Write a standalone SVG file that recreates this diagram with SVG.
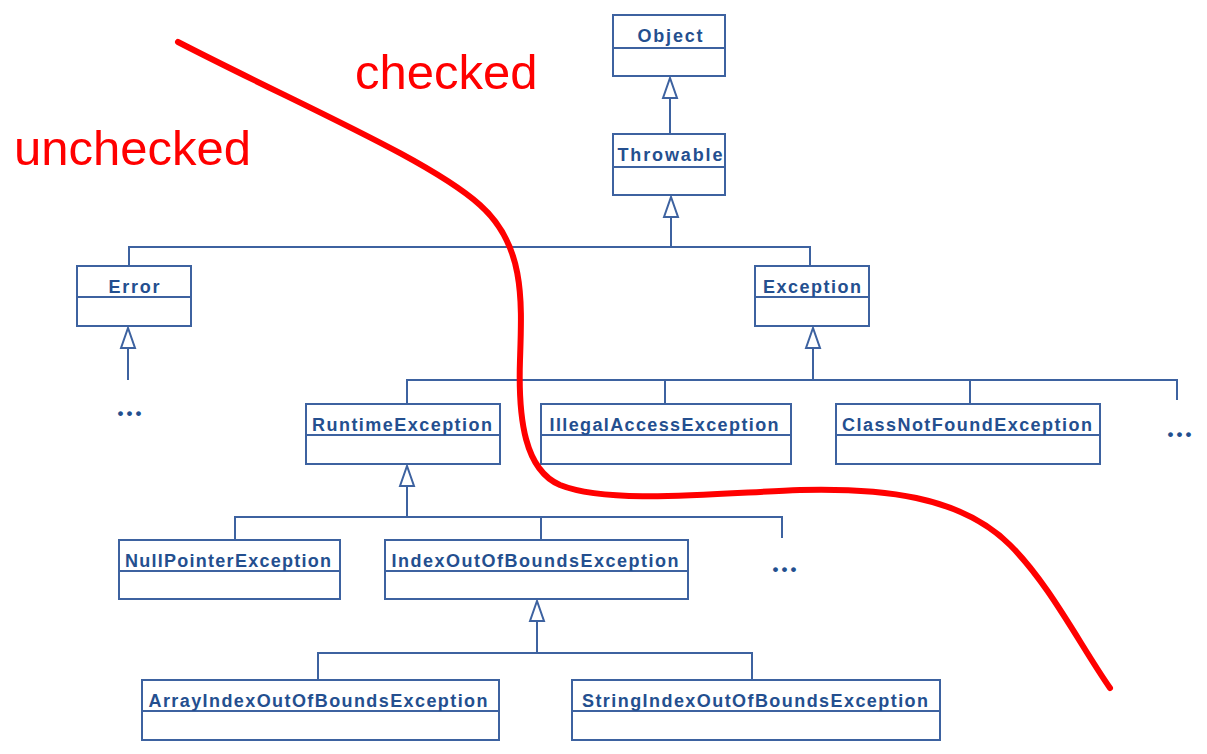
<svg xmlns="http://www.w3.org/2000/svg" width="1207" height="754" viewBox="0 0 1207 754">
<style>
.box{fill:#fff;stroke:#3d62a0;stroke-width:2}
.div{stroke:#3d62a0;stroke-width:1.8}
.lbl{font-family:"Liberation Sans",Arial,sans-serif;font-weight:bold;font-size:18px;fill:#244f8f;text-anchor:middle}
.con{fill:none;stroke:#3d62a0;stroke-width:2}
.dots{font-family:"Liberation Sans",Arial,sans-serif;font-weight:bold;font-size:17px;letter-spacing:3px;fill:#244f8f;text-anchor:middle}
.red{font-family:"Liberation Sans",Arial,sans-serif;font-size:49px;fill:#ff0000}
</style>
<defs>
<marker id="tri" markerUnits="userSpaceOnUse" markerWidth="24" markerHeight="18" viewBox="0 0 24 18" refX="22" refY="9" orient="auto">
<path d="M2,2 L22,9 L2,16 Z" fill="#fff" stroke="#3d62a0" stroke-width="2"/>
</marker>
</defs>
<rect width="1207" height="754" fill="#fff"/>
<g id="connectors">
<path class="con" d="M670,134 V78" marker-end="url(#tri)"/>
<path class="con" d="M671,247 V197" marker-end="url(#tri)"/>
<path class="con" d="M129,266 V247 H810 V266"/>
<path class="con" d="M128,380 V328" marker-end="url(#tri)"/>
<path class="con" d="M813,380 V328" marker-end="url(#tri)"/>
<path class="con" d="M407,404 V380 H1177 V400"/>
<path class="con" d="M665,380 V404"/>
<path class="con" d="M970,380 V404"/>
<path class="con" d="M407,517 V466" marker-end="url(#tri)"/>
<path class="con" d="M235,540 V517 H782 V538"/>
<path class="con" d="M541,517 V540"/>
<path class="con" d="M537,653 V601" marker-end="url(#tri)"/>
<path class="con" d="M318,680 V653 H752 V680"/>
</g>
<g id="Object"><rect class="box" x="613" y="15" width="112" height="61"/><line class="div" x1="613" y1="48" x2="725" y2="48"/><text class="lbl" x="670" y="42" textLength="65" lengthAdjust="spacing">Object</text></g>
<g id="Throwable"><rect class="box" x="613" y="134" width="112" height="61"/><line class="div" x1="613" y1="167" x2="725" y2="167"/><text class="lbl" x="670" y="161" textLength="105" lengthAdjust="spacing">Throwable</text></g>
<g id="Error"><rect class="box" x="77" y="266" width="114" height="60"/><line class="div" x1="77" y1="297" x2="191" y2="297"/><text class="lbl" x="134" y="293" textLength="51" lengthAdjust="spacing">Error</text></g>
<g id="Exception"><rect class="box" x="755" y="266" width="114" height="60"/><line class="div" x1="755" y1="297" x2="869" y2="297"/><text class="lbl" x="812" y="293" textLength="98" lengthAdjust="spacing">Exception</text></g>
<g id="ErrorMore"><text class="dots" x="131" y="419">•••</text></g>
<g id="RuntimeException"><rect class="box" x="306" y="404" width="194" height="60"/><line class="div" x1="306" y1="435" x2="500" y2="435"/><text class="lbl" x="402" y="431" textLength="180" lengthAdjust="spacing">RuntimeException</text></g>
<g id="IllegalAccessException"><rect class="box" x="541" y="404" width="250" height="60"/><line class="div" x1="541" y1="435" x2="791" y2="435"/><text class="lbl" x="664" y="431" textLength="229" lengthAdjust="spacing">IllegalAccessException</text></g>
<g id="ClassNotFoundException"><rect class="box" x="836" y="404" width="264" height="60"/><line class="div" x1="836" y1="435" x2="1100" y2="435"/><text class="lbl" x="967" y="431" textLength="250" lengthAdjust="spacing">ClassNotFoundException</text></g>
<g id="ExceptionMore"><text class="dots" x="1181" y="440">•••</text></g>
<g id="NullPointerException"><rect class="box" x="119" y="540" width="221" height="59"/><line class="div" x1="119" y1="571" x2="340" y2="571"/><text class="lbl" x="228" y="567" textLength="206" lengthAdjust="spacing">NullPointerException</text></g>
<g id="IndexOutOfBoundsException"><rect class="box" x="385" y="540" width="303" height="59"/><line class="div" x1="385" y1="571" x2="688" y2="571"/><text class="lbl" x="535" y="567" textLength="287" lengthAdjust="spacing">IndexOutOfBoundsException</text></g>
<g id="RuntimeMore"><text class="dots" x="786" y="575">•••</text></g>
<g id="ArrayIndexOutOfBoundsException"><rect class="box" x="142" y="680" width="357" height="60"/><line class="div" x1="142" y1="711" x2="499" y2="711"/><text class="lbl" x="318" y="707" textLength="339" lengthAdjust="spacing">ArrayIndexOutOfBoundsException</text></g>
<g id="StringIndexOutOfBoundsException"><rect class="box" x="572" y="680" width="368" height="60"/><line class="div" x1="572" y1="711" x2="940" y2="711"/><text class="lbl" x="755" y="707" textLength="346" lengthAdjust="spacing">StringIndexOutOfBoundsException</text></g>
<g id="divider">
<path d="M178,42 C300,105 430,160 480,205 C525,245 522,300 520,360 C518,420 525,470 560,485 C610,505 720,493 800,490 C880,488 960,495 1010,545 C1050,585 1080,645 1110,688" fill="none" stroke="#ff0000" stroke-width="6" stroke-linecap="round"/>
<text class="red" x="355" y="89">checked</text>
<text class="red" x="14" y="165">unchecked</text>
</g>
</svg>
